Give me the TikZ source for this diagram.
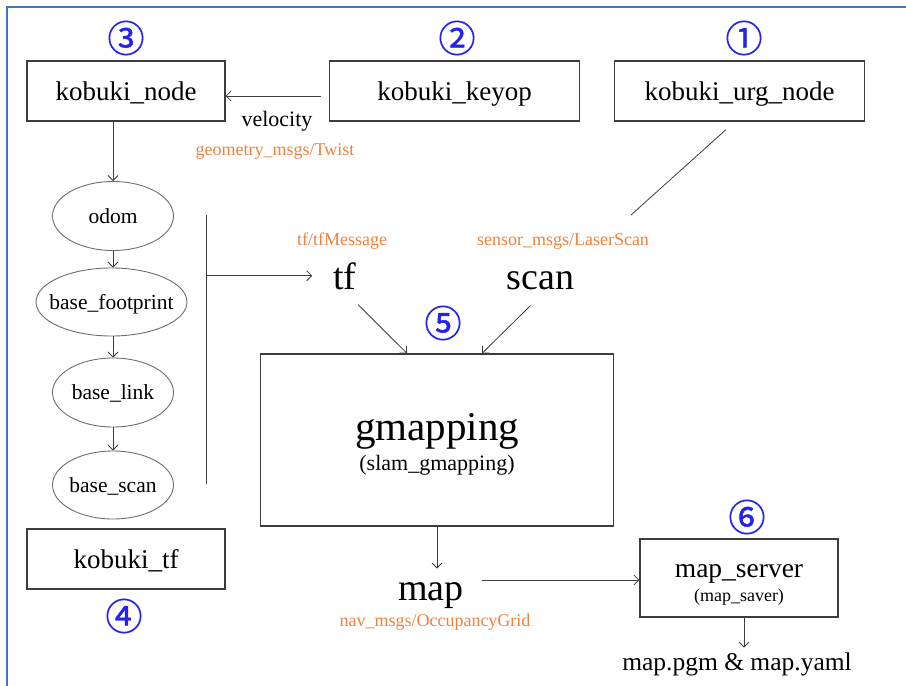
\documentclass[tikz,border=0pt]{standalone}
\usepackage{fontspec}
\setmainfont{Liberation Serif}
\newfontfamily\symfont[AutoFakeBold=1.2]{Noto Sans CJK JP}
\usetikzlibrary{arrows.meta,calc,shapes.geometric}
\definecolor{framec}{RGB}{68,114,196}
\definecolor{numc}{RGB}{35,35,235}
\definecolor{topicc}{RGB}{240,130,60}
\definecolor{linec}{RGB}{60,60,60}
\definecolor{ellc}{RGB}{110,110,110}
\tikzset{
  box/.style={draw=linec, line width=1.2pt, inner sep=0pt, text height=20pt, text depth=2pt, font=\fontsize{27}{30}\selectfont},
  ell/.style={ellipse, draw=ellc, line width=0.9pt, inner xsep=-30pt, inner ysep=0pt, text height=15pt, text depth=1pt, minimum width=121pt, minimum height=69pt, font=\fontsize{21.5}{24}\selectfont},
  topic/.style={inner sep=0pt, anchor=base, text=topicc, font=\fontsize{18}{20}\selectfont},
  big/.style={inner sep=0pt, anchor=base, font=\fontsize{38}{40}\selectfont},
  num/.style={inner sep=0pt, text=numc, font=\symfont\bfseries\fontsize{37}{39}\selectfont},
  plain/.style={inner sep=0pt, anchor=base},
  arr/.style={draw=linec, line width=0.8pt, -{Straight Barb[length=5pt,width=10pt]}},
  conn/.style={draw=linec, line width=0.8pt},
}
\begin{document}
\begin{tikzpicture}[x=1pt,y=-1pt]
\useasboundingbox (0,0) rectangle (906,686);
\fill[white] (0,0) rectangle (906,686);
\draw[framec, line width=1.5pt] (7,686) -- (7,7) -- (906,7);

% top row boxes
\node[box, minimum width=198pt, minimum height=60pt] (knode) at (126,91) {kobuki\_node};
\node[box, minimum width=250pt, minimum height=60pt] (kk) at (454.5,91) {kobuki\_keyop};
\node[box, minimum width=250pt, minimum height=60pt] (urg) at (739.5,91) {kobuki\_urg\_node};
\node[num] (n3) at (126,38) {③};
\node[num] (n2) at (457,38) {②};
\node[num] (n1) at (744,38) {①};

\node[plain, font=\fontsize{22}{24}\selectfont] (vel) at (277,126) {velocity};
\node[topic] (geo) at (275,155) {geometry\_msgs/Twist};

% tf chain
\node[ell] (odom) at (113,216) {odom};
\node[ell, minimum width=151pt, minimum height=68pt] (bf) at (111.5,302) {base\_footprint};
\node[ell] (bl) at (113,392.5) {base\_link};
\node[ell, minimum height=68pt] (bs) at (113,485) {base\_scan};
\node[box, minimum width=198pt, minimum height=60pt] (ktf) at (126,559) {kobuki\_tf};
\node[num] (n4) at (124,616) {④};

% topics
\node[topic] (tfmsg) at (342,245) {tf/tfMessage};
\node[topic] (sensor) at (563,245) {sensor\_msgs/LaserScan};
\node[big] (tf) at (345,289) {tf};
\node[big] (scan) at (540.5,289) {scan};
\node[num] (n5) at (443,323) {⑤};

% gmapping
\node[draw=linec, line width=1.2pt, minimum width=353pt, minimum height=172pt, inner sep=0pt] (gm) at (437,440) {};
\node[plain, font=\fontsize{41}{44}\selectfont] (gmt) at (437,440) {gmapping};
\node[plain, font=\fontsize{22}{24}\selectfont] (gms) at (437,470) {(slam\_gmapping)};

% map
\node[big] (map) at (431,600) {map};
\node[topic] (nav) at (435,626) {nav\_msgs/OccupancyGrid};

% map server
\node[draw=linec, line width=1.2pt, minimum width=198pt, minimum height=78pt, inner sep=0pt] (ms) at (739,578) {};
\node[plain, font=\fontsize{27.5}{30}\selectfont] (mst) at (739,577) {map\_server};
\node[plain, font=\fontsize{18}{20}\selectfont] (mss) at (739,601) {(map\_saver)};
\node[num] (n6) at (747,517) {⑥};
\node[plain, font=\fontsize{25.5}{28}\selectfont] (files) at (737,670) {map.pgm \& map.yaml};

% connectors
\coordinate (scanend) at (631,215);
\coordinate (bartop) at (206,215);
\coordinate (barbot) at (206,484);
\draw[arr] ($(kk.west)+(-8,5)$) -- ($(knode.east)+(0,5)$);
\draw[conn] ($(urg.south)+(-13.5,8)$) -- (scanend);
\draw[arr] (odom.north |- knode.south) -- (odom.north);
\draw[arr] (odom.south) -- (odom.south |- bf.north);
\draw[arr] (bl.north |- bf.south) -- (bl.north);
\draw[arr] (bl.south) -- (bs.north);
\draw[conn] (bartop) -- (barbot);
\draw[arr] (bartop |- tf.west) -- ($(tf.west)+(-21,0)$);
\draw[arr] ($(tf.south)+(13,15)$) -- ($(gm.north)+(-30,0)$);
\draw[arr] ($(scan.south)+(-10,16)$) -- ($(gm.north)+(45,0)$);
\draw[arr] (gm.south) -- ($(gm.south)+(0,42)$);
\draw[arr] ($(map.east |- ms.west)+(18,2)$) -- ($(ms.west)+(0,2)$);
\draw[arr] ($(ms.south)+(5,0)$) -- ($(ms.south)+(5,30)$);
\end{tikzpicture}
\end{document}
